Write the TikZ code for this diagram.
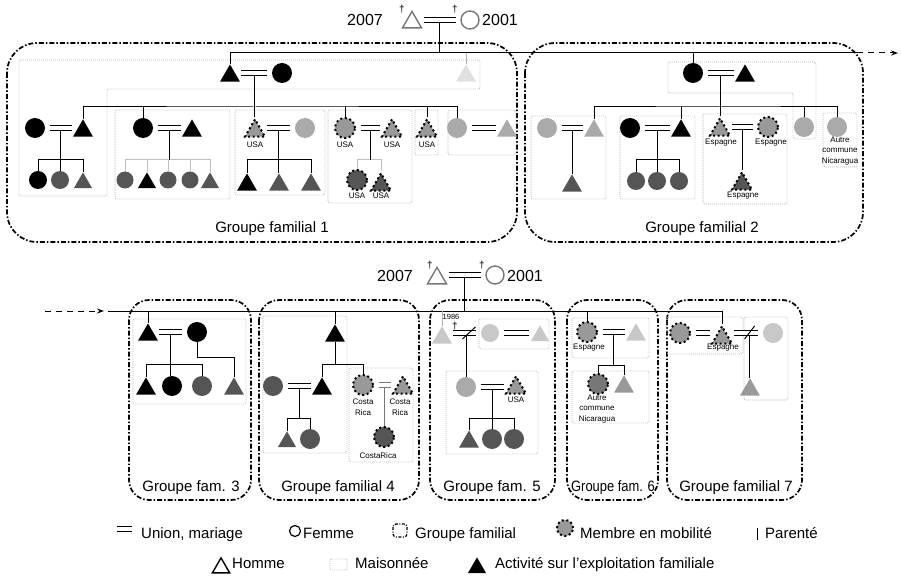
\documentclass[tikz,border=0pt]{standalone}
\usepackage{fontspec}
\setmainfont{Liberation Sans}
\usetikzlibrary{shapes.geometric,arrows.meta,calc}
\definecolor{gfonce}{HTML}{555555}
\definecolor{gmob}{HTML}{999999}
\definecolor{gmoyen}{HTML}{AAAAAA}
\definecolor{gclair}{HTML}{C8C8C8}
\definecolor{gpale}{HTML}{E0E0E0}
\definecolor{gtrait}{HTML}{777777}
\begin{document}
\begin{tikzpicture}[x=1pt, y=-1pt,
  every node/.style={inner sep=0pt, font=\fontsize{15}{18}\selectfont},
  fem/.style={circle, minimum size=20pt},
  hom/.style={regular polygon, regular polygon sides=3, minimum size=23pt, yshift=-2.9pt},
  mob/.style={draw, fill=gmob, line width=2pt, dash pattern=on 2pt off 2.6pt},
  vide/.style={draw=gtrait, line width=1.4pt},
  union/.style={double, double distance=3.4pt, line width=1.1pt, shorten <=4.5pt, shorten >=4.5pt},
  lien/.style={line width=1pt},
  fleche/.style={line width=1pt, dash pattern=on 6pt off 5pt, -{Stealth[length=7pt, width=5pt]}},
  maison/.style={draw=gray!60, line width=0.8pt, dash pattern=on 0.8pt off 1.2pt, rounded corners=2pt},
  groupe/.style={draw, line width=1.7pt, dash pattern=on 5pt off 2pt on 1.5pt off 2pt, rounded corners=#1},
  groupe/.default=20pt,
  lieu/.style={font=\fontsize{8}{10.5}\selectfont, align=center},
  annee/.style={font=\fontsize{16}{19}\selectfont},
  croix/.style={font=\fontsize{10}{12}\selectfont}
]
\useasboundingbox (0,0) rectangle (901,577);

% groupes familiaux
\draw[groupe=30pt] (7,43) rectangle (517,242);
\draw[groupe=30pt] (525,43) rectangle (863,242);
\draw[groupe] (129,300) rectangle (251,500);
\draw[groupe] (259,300) rectangle (419,500);
\draw[groupe] (430,300) rectangle (555,500);
\draw[groupe] (567,300) rectangle (658,500);
\draw[groupe] (667,300) rectangle (802,500);
\node[anchor=base] (lg1) at (272,233) {Groupe familial 1};
\node[anchor=base] (lg2) at (702,233) {Groupe familial 2};
\node[anchor=base] (lg3) at (191,491) {Groupe fam. 3};
\node[anchor=base] (lg4) at (338,491) {Groupe familial 4};
\node[anchor=base] (lg5) at (492,491) {Groupe fam. 5};
\node[anchor=base] (lg6) at (613,491) {\scalebox{0.86}[1]{Groupe fam. 6}};
\node[anchor=base] (lg7) at (736,491) {Groupe familial 7};

% maisonnees
\draw[maison] (19,60) -- (480,60) -- (480,89) -- (107,89) -- (107,196) -- (19,196) -- cycle;
\draw[maison] (115,110) rectangle (230,199);
\draw[maison] (235,110) rectangle (325,195);
\draw[maison] (328,110) rectangle (412,203);
\draw[maison] (415,110) rectangle (438,155);
\draw[maison] (448,110) rectangle (516,155);
\draw[maison] (668,62) -- (816,62) -- (816,139) -- (793,139) -- (793,93) -- (668,93) -- cycle;
\draw[maison] (531,116) rectangle (606,199);
\draw[maison] (620,116) rectangle (695,199);
\draw[maison] (703,114) rectangle (787,204);
\draw[maison] (823,113) rectangle (857,167);
\draw[maison] (133,319) rectangle (246,404);
\draw[maison] (263,316) rectangle (347,453);
\draw[maison] (349,368) rectangle (413,462);
\draw[maison] (479,319) rectangle (549,349);
\draw[maison] (446,371) rectangle (538,454);
\draw[maison] (572,318) rectangle (649,358);
\draw[maison] (572,371) rectangle (649,423);
\draw[maison] (667,317) rectangle (743,354);
\draw[maison] (744,317) rectangle (788,400);

% ancetres
\node[annee, anchor=base east] (an1) at (383,26) {2007};
\node[hom, vide, minimum size=22pt] (r1h) at (412,19.5) {};
\node[fem, vide, minimum size=18pt] (r1f) at (470,20) {};
\node[annee, anchor=base west] (an2) at (482,26) {2001};
\node[croix] (x1) at (402,9) {†};
\node[croix] (x2) at (455,9) {†};
\node[annee, anchor=base east] (an3) at (413,281) {2007};
\node[hom, vide, minimum size=22pt] (r2h) at (437,275.5) {};
\node[fem, vide, minimum size=18pt] (r2f) at (495,275) {};
\node[annee, anchor=base west] (an4) at (507,281) {2001};
\node[croix] (x3) at (430,265) {†};
\node[croix] (x4) at (482,265) {†};

% groupe 1
\node[hom, fill=black] (g1h) at (230,73) {};
\node[fem, fill=black] (g1f) at (282,73) {};
\node[hom, fill=gpale] (g1x) at (466,73) {};
\node[fem, fill=black] (f1f) at (35,128) {};
\node[hom, fill=black] (f1h) at (83,128) {};
\node[fem, fill=black, minimum size=18pt] (k11) at (38,180) {};
\node[fem, fill=gfonce, minimum size=18pt] (k12) at (60,180) {};
\node[hom, fill=gfonce, minimum size=21pt] (k13) at (83,180) {};
\node[fem, fill=black] (f2f) at (143,128) {};
\node[hom, fill=black] (f2h) at (192,128) {};
\node[fem, fill=gfonce, minimum size=17pt] (k21) at (125,180) {};
\node[hom, fill=black, minimum size=21pt] (k22) at (147,180) {};
\node[fem, fill=gfonce, minimum size=17pt] (k23) at (168,180) {};
\node[fem, fill=gfonce, minimum size=17pt] (k24) at (190,180) {};
\node[hom, fill=gfonce, minimum size=21pt] (k25) at (210,180) {};
\node[hom, mob] (f3h) at (255,128) {};
\node[fem, fill=gmoyen] (f3f) at (305,128) {};
\node[hom, fill=black] (k31) at (247,182) {};
\node[hom, fill=gfonce] (k32) at (279,182) {};
\node[hom, fill=gfonce] (k33) at (311,182) {};
\node[fem, mob] (f4f) at (345,128) {};
\node[hom, mob] (f4h) at (392,128) {};
\node[fem, mob, fill=gfonce] (k41) at (357,180) {};
\node[hom, mob, fill=gfonce] (k42) at (381,182) {};
\node[hom, mob] (f5h) at (427,128) {};
\node[fem, fill=gmoyen] (f6f) at (457,128) {};
\node[hom, fill=gmoyen] (f6h) at (507,128) {};
\node[lieu] (l1) at (255,145) {USA};
\node[lieu] (l2) at (345,145) {USA};
\node[lieu] (l3) at (392,145) {USA};
\node[lieu] (l4) at (427,145) {USA};
\node[lieu] (l5) at (357,196) {USA};
\node[lieu] (l6) at (381,196) {USA};

\coordinate (r1u) at ($(r1h.east |- r1f.west)!.5!(r1f.west)$);
\coordinate (fin1) at (857,53);
\coordinate (bout1) at (898,53);
\draw[lien] (r1u) -- (r1u |- fin1);
\draw[lien] (g1h.north) |- (fin1);
\draw[fleche] (fin1) -- (bout1);
\draw[lien, gray!60] (g1x.north) -- (g1x.north |- fin1);
\coordinate (g1u) at ($(g1h.east |- g1f.west)!.5!(g1f.west)$);
\draw[lien] (g1u) -- (g1u |- f3h.north);
\draw[lien] (f1h.north) |- (g1u |- 0,107) -| (f6f.north);
\foreach \n in {f2f,f4f,f5h} \draw[lien] (\n.north) -- (\n.north |- 0,107);
\coordinate (f1u) at ($(f1f.east)!.5!(f1f.east -| f1h.west)$);
\draw[lien] (f1u) -- (f1u |- k12.north);
\draw[lien] (k11.north) |- (k13.north |- 0,160) -- (k13.north);
\coordinate (f2u) at ($(f2f.east)!.5!(f2f.east -| f2h.west)$);
\draw[lien, gray!50] (k21.north) |- (k25.north |- 0,160) -- (k25.north);
\foreach \n in {k22,k23,k24} \draw[lien, gray!50] (\n.north) -- (\n.north |- 0,160);
\draw[lien] (f2u) -- (f2u |- 0,160);
\coordinate (f3u) at ($(f3h.east |- f3f.west)!.5!(f3f.west)$);
\draw[lien] (f3u) -- (f3u |- k32.north);
\draw[lien] (k31.north) |- (k33.north |- 0,160) -- (k33.north);
\coordinate (f4u) at ($(f4f.east)!.5!(f4f.east -| f4h.west)$);
\draw[lien, gray!50] (k41.north) |- (k42.north |- 0,160) -- (k42.north);
\draw[lien] (f4u) -- (f4u |- 0,160);
\draw[union] (r1h.east |- r1f.west) -- (r1f.west);
\draw[union] (g1h.east |- g1f.west) -- (g1f.west);
\draw[union] (f1f.east) -- (f1f.east -| f1h.west);
\draw[union] (f2f.east) -- (f2f.east -| f2h.west);
\draw[union] (f3h.east |- f3f.west) -- (f3f.west);
\draw[union] (f4f.east) -- (f4f.east -| f4h.west);
\draw[union] (f6f.east) -- (f6f.east -| f6h.west);

% groupe 2
\node[fem, fill=black] (g2f) at (693,73) {};
\node[hom, fill=black] (g2h) at (745,73) {};
\node[fem, fill=gmoyen] (aF) at (547,128) {};
\node[hom, fill=gmoyen] (aH) at (594,128) {};
\node[hom, fill=gfonce] (aK) at (572,183) {};
\node[fem, fill=black] (bF) at (630,128) {};
\node[hom, fill=black] (bH) at (681,128) {};
\node[fem, fill=gfonce, minimum size=18pt] (bK1) at (636,181) {};
\node[fem, fill=gfonce, minimum size=18pt] (bK2) at (657,181) {};
\node[fem, fill=gfonce, minimum size=18pt] (bK3) at (679,181) {};
\node[hom, mob] (cH) at (720,127) {};
\node[fem, mob] (cF) at (768,127) {};
\node[hom, mob, fill=gfonce] (cK) at (742,181) {};
\node[fem, fill=gmoyen] (sF) at (804,127) {};
\node[fem, fill=gmoyen] (nF) at (837,127) {};
\node[lieu] (l7) at (721,143) {Espagne};
\node[lieu] (l8) at (771,143) {Espagne};
\node[lieu] (l9) at (743,196) {Espagne};
\node[lieu] (l10) at (840,151) {Autre\\commune\\Nicaragua};

\draw[lien] (g2f.north) -- (g2f.north |- fin1);
\coordinate (g2u) at ($(g2f.east)!.5!(g2f.east -| g2h.west)$);
\draw[lien] (g2u) -- (g2u |- cH.north);
\draw[lien] (aH.north) |- (g2u |- 0,107) -| (nF.north);
\foreach \n in {bH,sF} \draw[lien] (\n.north) -- (\n.north |- 0,107);
\coordinate (aU) at ($(aF.east)!.5!(aF.east -| aH.west)$);
\draw[lien] (aU) -- (aU |- aK.north);
\coordinate (bU) at ($(bF.east)!.5!(bF.east -| bH.west)$);
\draw[lien] (bU) -- (bU |- bK2.north);
\draw[lien] (bK1.north) |- (bK3.north |- 0,160) -- (bK3.north);
\coordinate (cU) at ($(cH.east |- cF.west)!.5!(cF.west)$);
\draw[lien] (cU) -- (cU |- cK.north);
\draw[union] (g2f.east) -- (g2f.east -| g2h.west);
\draw[union] (aF.east) -- (aF.east -| aH.west);
\draw[union] (bF.east) -- (bF.east -| bH.west);
\draw[union] (cH.east |- cF.west) -- (cF.west);

% groupe 3
\node[hom, fill=black] (g3h) at (148,332) {};
\node[fem, fill=black] (g3f) at (197,332) {};
\node[hom, fill=black] (g3k1) at (146,386) {};
\node[fem, fill=black] (g3k2) at (172,386) {};
\node[fem, fill=gfonce] (g3k3) at (202,386) {};
\node[hom, fill=gfonce] (g3k4) at (234,386) {};

% groupe 4
\node[hom, fill=black] (g4h) at (335,333) {};
\node[fem, fill=gfonce] (dF) at (273,386) {};
\node[hom, fill=black] (dH) at (322,386) {};
\node[hom, fill=gfonce, minimum size=21pt] (dK1) at (287,439) {};
\node[fem, fill=gfonce] (dK2) at (310,439) {};
\node[fem, mob] (eF) at (363,385) {};
\node[hom, mob] (eH) at (403,385) {};
\node[fem, mob, fill=gfonce] (eK) at (384,437) {};
\node[lieu] (l11) at (363,407) {Costa\\Rica};
\node[lieu] (l12) at (400,407) {Costa\\Rica};
\node[lieu] (l13) at (378,456) {CostaRica};

% groupe 5
\node[hom, fill=gclair] (p5a) at (442,335) {};
\node[fem, fill=gclair, minimum size=18pt] (p5b) at (490,333) {};
\node[hom, fill=gclair, minimum size=21pt] (p5d) at (540,333) {};
\node[fem, fill=gmoyen] (p5c) at (466,387) {};
\node[hom, mob] (p5e) at (516,385) {};
\node[hom, fill=gfonce] (p5k1) at (469,439) {};
\node[fem, fill=gfonce] (p5k2) at (492,439) {};
\node[fem, fill=gfonce] (p5k3) at (514,439) {};
\node[lieu, font=\fontsize{7.5}{9}\selectfont] (l14) at (451,317) {1986};
\node[lieu] (l15) at (516,400) {USA};

% groupe 6
\node[fem, mob] (q6a) at (587,332) {};
\node[hom, fill=gclair] (q6b) at (636,332) {};
\node[fem, mob, fill=gtrait] (q6k1) at (598,384) {};
\node[hom, fill=gmob] (q6k2) at (624,384) {};
\node[lieu] (l16) at (589,348) {Espagne};
\node[lieu] (l17) at (597,409) {Autre\\commune\\Nicaragua};

% groupe 7
\node[fem, mob] (s7a) at (680,333) {};
\node[hom, mob] (s7b) at (722,335) {};
\node[fem, fill=gclair] (s7c) at (773,333) {};
\node[hom, fill=gmob] (s7d) at (750,387) {};
\node[lieu] (l18) at (723,348) {Espagne};

\coordinate (deb2) at (45,311);
\coordinate (axe2) at (108,311);
\draw[fleche] (deb2) -- ([xshift=-4pt]axe2);
\draw[lien] (axe2) -| (s7b.north);
\foreach \n in {g3h,g4h,q6a} \draw[lien] (\n.north) -- (\n.north |- axe2);
\draw[lien, gray!60] (p5a.north) -- (p5a.north |- axe2);
\coordinate (r2u) at ($(r2h.east |- r2f.west)!.5!(r2f.west)$);
\draw[lien] (r2u) -- (r2u |- axe2);
\coordinate (g3u) at ($(g3h.east |- g3f.west)!.5!(g3f.west)$);
\draw[lien] (g3u) -- (g3u |- g3k2.north);
\draw[lien] (g3k1.north) |- (g3k3.north |- 0,364) -- (g3k3.north);
\draw[lien] (g3f.south) |- (g3k4.north |- 0,357) -- (g3k4.north);
\draw[lien] (g4h.south) -- (g4h.south |- 0,364);
\draw[lien] (dH.north) |- (eF.north |- 0,364) -- (eF.north);
\coordinate (dU) at ($(dF.east)!.5!(dF.east -| dH.west)$);
\draw[lien] (dU) -- (dU |- 0,418);
\draw[lien] (dK1.north) |- (dK2.north |- 0,418) -- (dK2.north);
\coordinate (eU) at ($(eF.east)!.5!(eF.east -| eH.west)$);
\draw[lien, gtrait] (eU) -- (eU |- eK.north);
\coordinate (p5u) at ($(p5a.east |- p5b.west)!.55!(p5b.west)$);
\draw[lien] (p5u) -- (p5u |- p5c.north);
\coordinate (p5v) at ($(p5c.east)!.5!(p5c.east -| p5e.west)$);
\draw[lien] (p5v) -- (p5v |- p5k2.north);
\draw[lien] (p5k1.north) |- (p5k3.north |- 0,418) -- (p5k3.north);
\coordinate (q6u) at ($(q6a.east)!.5!(q6a.east -| q6b.west)$);
\draw[lien] (q6u) -- (q6u |- 0,365);
\draw[lien] (q6k1.north) |- (q6k2.north |- 0,365) -- (q6k2.north);
\coordinate (s7u) at ($(s7b.east |- s7c.west)!.6!(s7c.west)$);
\draw[lien] (s7u) -- (s7u |- s7d.north);
\draw[union] (r2h.east |- r2f.west) -- (r2f.west);
\draw[union] (g3h.east |- g3f.west) -- (g3f.west);
\draw[union] (dF.east) -- (dF.east -| dH.west);
\draw[union, gtrait] (eF.east) -- (eF.east -| eH.west);
\draw[union] (p5a.east |- p5b.west) -- (p5b.west);
\draw[union] (p5b.east) -- (p5b.east -| p5d.west);
\draw[union] (p5c.east) -- (p5c.east -| p5e.west);
\draw[union] (q6a.east) -- (q6a.east -| q6b.west);
\draw[union] (s7a.east) -- (s7a.east -| s7b.west);
\draw[union] (s7b.east |- s7c.west) -- (s7c.west);
\draw[lien] ($(p5u)+(-4,6)$) -- ($(p5u)+(9,-6)$);
\draw[lien] ($(s7u)+(-5,6)$) -- ($(s7u)+(5,-7)$);
\node[croix] (x5) at (455,326) {†};

% legende
\coordinate (lu1) at (117,529);
\coordinate (lu2) at (132,529);
\draw[line width=1pt, double, double distance=4.5pt] (lu1) -- (lu2);
\node[anchor=base west] (t1) at (141,538) {Union, mariage};
\node[circle, draw, line width=1.2pt, minimum size=11pt] (s2) at (295,531) {};
\node[anchor=base west] (t2) at (303,538) {Femme};
\draw[groupe=3pt, line width=1.2pt, dash pattern=on 3pt off 1.5pt on 1pt off 1.5pt] (393,524) rectangle (407,537);
\node[anchor=base west] (t3) at (415,538) {Groupe familial};
\node[fem, mob, minimum size=16pt] (s4) at (565,528) {};
\node[anchor=base west] (t4) at (580,538) {Membre en mobilité};
\draw[lien] (757,528) -- (757,540);
\node[anchor=base west] (t5) at (765,538) {Parenté};
\node[hom, draw, line width=1.4pt, minimum size=20pt] (s6) at (221,565) {};
\node[anchor=base west] (t6) at (232,568) {Homme};
\draw[maison] (330,559) rectangle (347,570);
\node[anchor=base west] (t7) at (355,568) {Maisonnée};
\node[hom, fill=black, minimum size=21pt] (s8) at (477,565) {};
\node[anchor=base west] (t8) at (495,568) {Activité sur l'exploitation familiale};
\end{tikzpicture}
\end{document}
